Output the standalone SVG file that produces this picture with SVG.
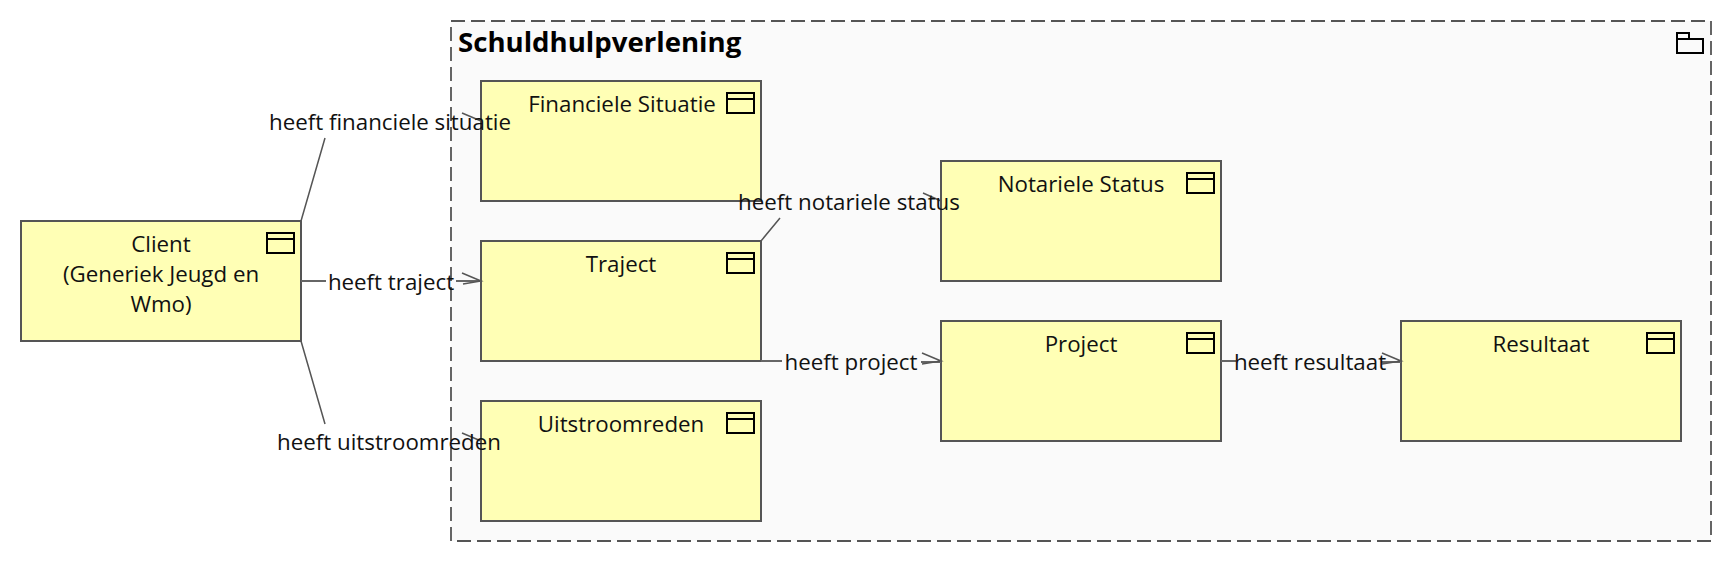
<svg xmlns="http://www.w3.org/2000/svg" width="1732" height="562" viewBox="0 0 1732 562">
<style>
.n{fill:#ffffb5;stroke:#555;stroke-width:2}
.i{fill:none;stroke:#000;stroke-width:2}
.t{font:22.3px "Open Sans","Noto Sans",sans-serif;fill:#111;text-anchor:middle}
.l{font:22.3px "Open Sans","Noto Sans",sans-serif;fill:#111;text-anchor:middle}
.c{fill:none;stroke:#555;stroke-width:1.5}
.s{fill:none;stroke:#666;stroke-width:2}
</style>
<defs>
<g id="ic"><rect class="i" x="0" y="0" width="27" height="20"/><line class="i" x1="0" y1="6" x2="27" y2="6"/></g>
</defs>
<rect width="1732" height="562" fill="#fff"/>
<g id="group-schuldhulpverlening">
<rect x="451" y="21" width="1260" height="520" fill="#fafafa" stroke="#555" stroke-width="1.8" stroke-dasharray="14 6"/>
<text x="458" y="52" font-family="'Open Sans','Noto Sans',sans-serif" font-size="27.6" font-weight="700" fill="#000">Schuldhulpverlening</text>
<path class="i" d="M1677 53V33h12v6h14v14zM1677 39h12"/>
</g>
<g id="node-client"><rect class="n" x="21" y="221" width="280" height="120"/><text class="t" x="161" y="252">Client</text><text class="t" x="161" y="281.5">(Generiek Jeugd en</text><text class="t" x="161" y="312">Wmo)</text><use href="#ic" x="267" y="233"/></g>
<g id="node-financiele"><rect class="n" x="481" y="81" width="280" height="120"/><text class="t" x="622" y="112">Financiele Situatie</text><use href="#ic" x="727" y="93"/></g>
<g id="node-traject"><rect class="n" x="481" y="241" width="280" height="120"/><text class="t" x="621" y="272">Traject</text><use href="#ic" x="727" y="253"/></g>
<g id="node-uitstroomreden"><rect class="n" x="481" y="401" width="280" height="120"/><text class="t" x="621" y="432">Uitstroomreden</text><use href="#ic" x="727" y="413"/></g>
<g id="node-notariele"><rect class="n" x="941" y="161" width="280" height="120"/><text class="t" x="1081" y="192">Notariele Status</text><use href="#ic" x="1187" y="173"/></g>
<g id="node-project"><rect class="n" x="941" y="321" width="280" height="120"/><text class="t" x="1081" y="352">Project</text><use href="#ic" x="1187" y="333"/></g>
<g id="node-resultaat"><rect class="n" x="1401" y="321" width="280" height="120"/><text class="t" x="1541" y="352">Resultaat</text><use href="#ic" x="1647" y="333"/></g>
<g id="connectors">
<path class="c" d="M301 221L325 138M462 113L481 121"/>
<path class="s" d="M301 281H326M456 281H481"/><path class="c" d="M462 273L481 281L463 284"/>
<path class="c" d="M301 341L325 424M462 433L481 441"/>
<path class="c" d="M761 241L780 218M923 193L941 201"/>
<path class="s" d="M761 361H782M921 362H941"/><path class="c" d="M922 353L941 361L922 364"/>
<path class="s" d="M1221 361H1236M1381 362H1401"/><path class="c" d="M1382 353L1401 361L1382 364"/>
</g>
<g id="labels">
<text class="l" x="390" y="130">heeft financiele situatie</text>
<text class="l" x="391" y="289.5">heeft traject</text>
<text class="l" x="389" y="450">heeft uitstroomreden</text>
<text class="l" x="849" y="210">heeft notariele status</text>
<text class="l" x="851" y="369.5">heeft project</text>
<text class="l" x="1310" y="369.5">heeft resultaat</text>
</g>
</svg>
